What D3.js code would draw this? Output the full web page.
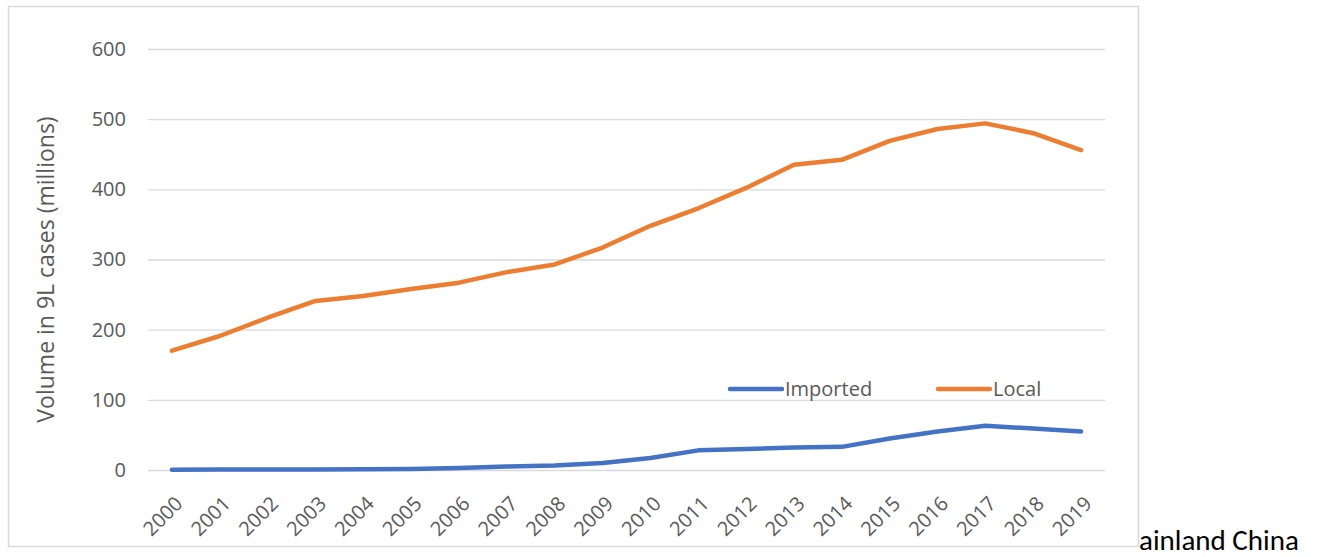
<!DOCTYPE html>
<html>
<head>
<meta charset="utf-8">
<script src="https://cdn.jsdelivr.net/npm/d3@7"></script>
<style>
  html, body { margin: 0; padding: 0; background: #fff; }
  svg { display: block; }
</style>
</head>
<body>
<svg id="chart" width="1318" height="557"></svg>
<script>
// Wine volume by origin, 2000–2019 (millions of 9L cases)
const years = ["2000","2001","2002","2003","2004","2005","2006","2007","2008","2009",
               "2010","2011","2012","2013","2014","2015","2016","2017","2018","2019"];
const imported = [0.5, 0.6, 0.7, 0.8, 1.2, 1.6, 3, 5, 6.5, 10,
                  17, 28, 30, 32, 33, 45, 55, 63, 59, 55];
const local = [170, 191, 217, 241, 248, 258, 267, 282, 293, 317,
               348, 373, 402, 435, 442, 469, 486, 494, 480, 456];
const yTicks = [0, 100, 200, 300, 400, 500, 600];
const seriesNames = ["Imported", "Local"];
const seriesColors = ["#4472C4", "#ED7D31"];

const svg = d3.select("#chart");
const font = "'Open Sans', sans-serif";
const captionFont = "Carlito, Calibri, 'Liberation Sans', sans-serif";
const grey = "#595959";

// chart area frame
svg.append("rect")
  .attr("x", 8.5).attr("y", 6.5)
  .attr("width", 1130).attr("height", 540)
  .attr("fill", "#fff")
  .attr("stroke", "#d9d9d9").attr("stroke-width", 1.5);

const plot = { left: 148, right: 1105, top: 49, bottom: 470 };

const x = d3.scaleBand().domain(years).range([plot.left, plot.right]);
const cx = d => x(d) + x.bandwidth() / 2;
const y = d3.scaleLinear().domain([0, 600]).range([plot.bottom, plot.top]);

// horizontal gridlines + y tick labels
const yAxis = d3.axisLeft(y).tickValues(yTicks)
  .tickSize(-(plot.right - plot.left)).tickPadding(22);
const gy = svg.append("g").attr("transform", `translate(${plot.left},0)`).call(yAxis);
gy.select(".domain").remove();
gy.selectAll(".tick line").attr("stroke", "#d9d9d9").attr("stroke-width", 1.3);
gy.selectAll(".tick text")
  .attr("fill", grey).style("font-family", font).style("font-size", "20px");

// x axis labels rotated
const xAxis = d3.axisBottom(x).tickSize(0).tickPadding(0);
const gx = svg.append("g").attr("transform", `translate(0,${plot.bottom})`).call(xAxis);
gx.select(".domain").remove();
gx.selectAll(".tick text")
  .attr("fill", grey).style("font-family", font).style("font-size", "20px")
  .attr("text-anchor", "end")
  .attr("dy", 0)
  .attr("transform", "translate(12,35) rotate(-45)");

// y axis title
svg.append("text")
  .attr("transform", `translate(54,${(plot.top + plot.bottom) / 2 + 10}) rotate(-90)`)
  .attr("text-anchor", "middle")
  .attr("fill", grey)
  .style("font-family", font).style("font-size", "23px")
  .text("Volume in 9L cases (millions)");

// series lines
const line = d3.line().x((d, i) => cx(years[i])).y(d => y(d));
[imported, local].forEach((vals, k) => {
  svg.append("path")
    .datum(vals)
    .attr("d", line)
    .attr("fill", "none")
    .attr("stroke", seriesColors[k])
    .attr("stroke-width", 4.5)
    .attr("stroke-linejoin", "round")
    .attr("stroke-linecap", "round");
});

// legend
const legendX = [730, 938];
seriesNames.forEach((name, k) => {
  const g = svg.append("g").attr("transform", `translate(${legendX[k]},389)`);
  g.append("line").attr("x1", 0).attr("x2", 52).attr("y1", 0).attr("y2", 0)
    .attr("stroke", seriesColors[k]).attr("stroke-width", 4.5).attr("stroke-linecap", "round");
  g.append("text").attr("x", 55).attr("y", 7)
    .attr("fill", grey).style("font-family", font).style("font-size", "20px")
    .text(name);
});

// caption fragment to the right of the chart
svg.append("text")
  .attr("x", 1139).attr("y", 550)
  .attr("fill", "#000")
  .style("font-family", captionFont).style("font-size", "29px")
  .text("ainland China");
</script>
</body>
</html>
